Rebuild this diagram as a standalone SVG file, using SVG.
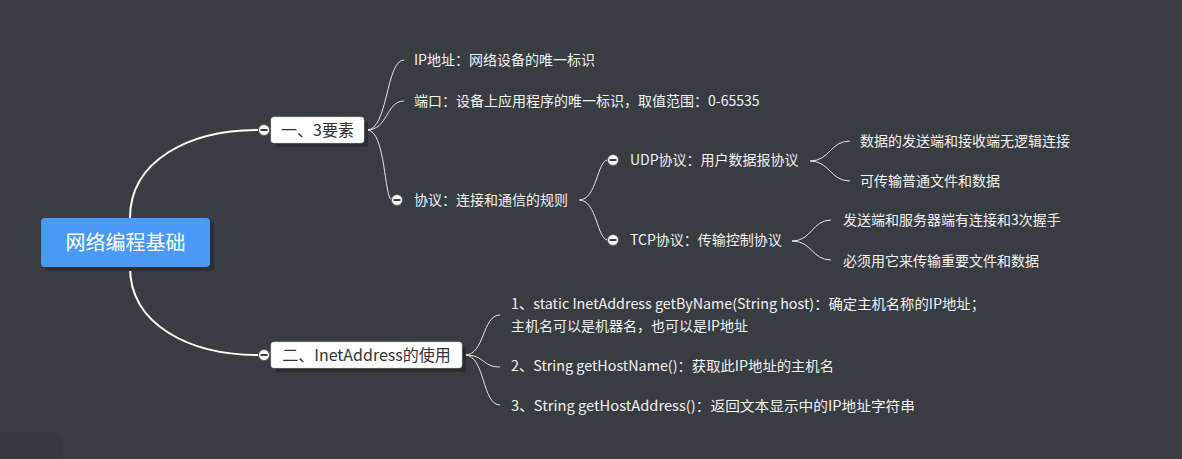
<svg xmlns="http://www.w3.org/2000/svg" width="1182" height="459" viewBox="0 0 1182 459">
<defs>
<style>
.bg{fill:#393c41}
.t{font-family:"Microsoft YaHei","Noto Sans CJK SC",sans-serif;font-size:14px;fill:#f2f2f2}
.nt{font-family:"Microsoft YaHei","Noto Sans CJK SC",sans-serif;font-size:16px;fill:#333333}
.rt{font-family:"Microsoft YaHei","Noto Sans CJK SC",sans-serif;font-size:20px;fill:#ffffff}
.c{fill:none;stroke:#e6e6e6;stroke-width:1}
.cm{fill:none;stroke:#ffffff;stroke-width:2}
.box{fill:#ffffff;stroke:#d0d0d0;stroke-width:0.5}
.sh{fill:#2b2d31}
.cc{fill:#ffffff;stroke:#555a60;stroke-width:1}
.bar{stroke:#3a3d42;stroke-width:2}
</style>
<g id="collapse"><circle class="cc" cx="0" cy="0" r="5.5"/><line class="bar" x1="-3.5" y1="0" x2="3.5" y2="0"/></g>
</defs>
<rect class="bg" x="0" y="0" width="1182" height="459"/>
<rect x="0" y="437" width="60" height="22" fill="#373a3f" stroke="#34373b" stroke-width="1"/>
<g id="connectors">
<path class="cm" d="M130,218 C130,160 190,130 258,130"/>
<path class="cm" d="M130,267 C130,325 190,355 258,355"/>
<path class="c" d="M367,130 C388,130 386,60 404,60"/>
<path class="c" d="M367,130 C388,130 386,101 404,101"/>
<path class="c" d="M367,130 C386,130 384,200 392,200"/>
<path class="c" d="M579,200 C597,200 597,160 608,160"/>
<path class="c" d="M579,200 C597,200 597,240 608,240"/>
<path class="c" d="M810,161 C830,161 830,141 850,141"/>
<path class="c" d="M810,161 C830,161 830,181 850,181"/>
<path class="c" d="M792,241 C812,241 812,220 831,220"/>
<path class="c" d="M792,241 C812,241 812,260 831,260"/>
<path class="c" d="M465,355 C485,355 482,315 500,315"/>
<path class="c" d="M465,355 C485,355 482,367 500,367"/>
<path class="c" d="M465,355 C485,355 482,405 500,405"/>
</g>
<g id="root">
<rect class="sh" x="45" y="222" width="169" height="49" rx="4"/>
<rect x="41" y="218" width="169" height="49" rx="4" fill="#4a98f7"/>
<text class="rt" x="125.5" y="250" text-anchor="middle">网络编程基础</text>
</g>
<g id="n1">
<rect class="sh" x="275" y="121" width="93" height="26" rx="3"/>
<rect class="box" x="271" y="117" width="93" height="26" rx="3"/>
<text class="nt" x="317.5" y="136" text-anchor="middle">一、3要素</text>
<use href="#collapse" x="264" y="130"/>
</g>
<g id="n2">
<rect class="sh" x="275" y="346" width="191" height="26" rx="3"/>
<rect class="box" x="271" y="342" width="191" height="26" rx="3"/>
<text class="nt" x="366.5" y="361" text-anchor="middle">二、InetAddress的使用</text>
<use href="#collapse" x="264" y="355"/>
</g>
<g id="ip"><text class="t" x="414" y="65">IP地址：网络设备的唯一标识</text></g>
<g id="port"><text class="t" x="414" y="106">端口：设备上应用程序的唯一标识，取值范围：0-65535</text></g>
<g id="proto"><use href="#collapse" x="397" y="200"/><text class="t" x="414" y="205">协议：连接和通信的规则</text></g>
<g id="udp"><use href="#collapse" x="613" y="160"/><text class="t" x="630" y="165">UDP协议：用户数据报协议</text></g>
<g id="tcp"><use href="#collapse" x="613" y="240"/><text class="t" x="630" y="245">TCP协议：传输控制协议</text></g>
<g id="udp1"><text class="t" x="860" y="146">数据的发送端和接收端无逻辑连接</text></g>
<g id="udp2"><text class="t" x="860" y="186">可传输普通文件和数据</text></g>
<g id="tcp1"><text class="t" x="843" y="225">发送端和服务器端有连接和3次握手</text></g>
<g id="tcp2"><text class="t" x="843" y="266">必须用它来传输重要文件和数据</text></g>
<g id="m1"><text class="t" x="511" y="309" textLength="474" lengthAdjust="spacingAndGlyphs">1、static InetAddress getByName(String host)：确定主机名称的IP地址；</text><text class="t" x="511" y="331">主机名可以是机器名，也可以是IP地址</text></g>
<g id="m2"><text class="t" x="511" y="371" textLength="323" lengthAdjust="spacingAndGlyphs">2、String getHostName()：获取此IP地址的主机名</text></g>
<g id="m3"><text class="t" x="511" y="411" textLength="404" lengthAdjust="spacingAndGlyphs">3、String getHostAddress()：返回文本显示中的IP地址字符串</text></g>
</svg>
